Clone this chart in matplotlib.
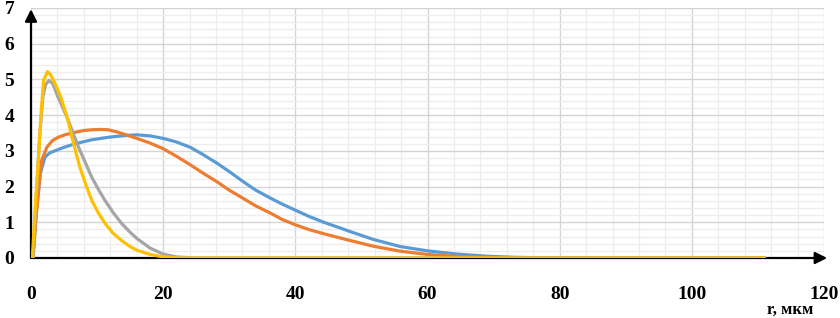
import matplotlib
matplotlib.use("Agg")
import matplotlib.pyplot as plt
from matplotlib.ticker import MultipleLocator

# Data (r in мкм)
blue_x = [0.3, 0.8, 1.4, 2.1, 2.8, 3.6, 5.0, 6.7, 9.2, 11.7, 14.2, 16.0, 18.0, 20.0, 22.0, 24.1,
          26.0, 28.1, 30.0, 32.1, 34.0, 36.2, 38.0, 40.0, 42.0, 44.3, 46.8, 48.3, 51.8, 55.9,
          60.0, 64.5, 69.0, 73.0, 78.0, 85.0, 111.0]
blue_y = [0.0, 1.3, 2.36, 2.82, 2.94, 3.0, 3.1, 3.2, 3.31, 3.38, 3.43, 3.45, 3.42, 3.35, 3.25, 3.1,
          2.9, 2.66, 2.42, 2.14, 1.9, 1.68, 1.51, 1.34, 1.17, 1.0, 0.84, 0.74, 0.52, 0.32,
          0.2, 0.11, 0.05, 0.02, 0.005, 0.0, 0.0]

orange_x = [0.3, 0.7, 1.1, 1.6, 2.4, 3.2, 4.1, 5.3, 6.7, 8.0, 9.2, 10.5, 11.7, 13.0, 14.2, 16.0,
            18.0, 20.0, 22.0, 24.1, 26.0, 28.1, 30.0, 32.1, 34.0, 36.2, 38.0, 40.0, 42.0, 44.3,
            46.8, 48.3, 51.8, 55.9, 60.0, 64.5, 70.0, 75.0, 111.0]
orange_y = [0.0, 1.0, 1.8, 2.73, 3.1, 3.28, 3.38, 3.46, 3.52, 3.57, 3.59, 3.6, 3.59, 3.53, 3.46, 3.35,
            3.22, 3.06, 2.85, 2.61, 2.38, 2.14, 1.9, 1.67, 1.46, 1.26, 1.08, 0.93, 0.8, 0.68,
            0.56, 0.49, 0.33, 0.19, 0.1, 0.04, 0.01, 0.0, 0.0]

gray_x = [0.3, 0.8, 1.3, 1.8, 2.2, 2.7, 3.3, 4.1, 4.9, 5.65, 6.4, 7.2, 8.2, 9.2, 10.2, 11.2,
          12.4, 13.7, 15.0, 16.0, 18.0, 20.0, 22.0, 25.0, 30.0, 111.0]
gray_y = [0.0, 1.7, 3.4, 4.5, 4.85, 4.97, 4.88, 4.5, 4.17, 3.85, 3.48, 3.1, 2.68, 2.26, 1.92, 1.61,
          1.28, 0.97, 0.72, 0.55, 0.28, 0.11, 0.03, 0.0, 0.0, 0.0]

yellow_x = [0.2, 0.7, 1.1, 1.5, 1.9, 2.5, 3.0, 3.9, 4.5, 5.15, 5.7, 6.2, 6.8, 7.4, 8.3, 9.2,
            10.2, 11.2, 12.4, 13.7, 15.0, 16.0, 18.0, 20.0, 22.0, 25.0, 111.0]
yellow_y = [0.0, 1.6, 2.7, 4.0, 4.97, 5.22, 5.12, 4.78, 4.5, 4.13, 3.78, 3.38, 2.95, 2.54, 2.05, 1.61,
            1.26, 0.97, 0.7, 0.49, 0.32, 0.22, 0.1, 0.03, 0.0, 0.0, 0.0]

x_ticks = [0, 20, 40, 60, 80, 100, 120]
y_ticks = [0, 1, 2, 3, 4, 5, 6, 7]
x_label = "r, мкм"

fig = plt.figure(figsize=(8.4, 3.18), dpi=100)
ax = fig.add_axes([31/840, 1 - 258/318, (824 - 31)/840, (258 - 8)/318])

ax.set_xlim(0, 120)
ax.set_ylim(0, 7)

ax.xaxis.set_major_locator(MultipleLocator(20))
ax.xaxis.set_minor_locator(MultipleLocator(4))
ax.yaxis.set_major_locator(MultipleLocator(1))
ax.yaxis.set_minor_locator(MultipleLocator(0.2))
ax.grid(which="major", color="#d4d4d4", linewidth=1.0, zorder=0)
ax.grid(which="minor", color="#ededed", linewidth=0.9, zorder=0)
ax.set_axisbelow(True)

lw = 2.3
kw = dict(lw=lw, solid_capstyle="round", solid_joinstyle="round")
ax.plot(blue_x, blue_y, color="#5B9BD5", zorder=3, **kw)
ax.plot(orange_x, orange_y, color="#ED7D31", zorder=4, **kw)
ax.plot(gray_x, gray_y, color="#A5A5A5", zorder=5, **kw)
ax.plot(yellow_x, yellow_y, color="#FFC000", zorder=6, **kw)

for s in ax.spines.values():
    s.set_visible(False)

# axis lines with arrows
ax.annotate("", xy=(1.004, 0), xycoords="axes fraction", xytext=(0, 0),
            arrowprops=dict(arrowstyle="-|>", color="black", lw=1.6, mutation_scale=18,
                            shrinkA=0, shrinkB=0), zorder=2)
ax.annotate("", xy=(0, 0.995), xycoords="axes fraction", xytext=(0, 0),
            arrowprops=dict(arrowstyle="-|>", color="black", lw=1.6, mutation_scale=18,
                            shrinkA=0, shrinkB=0), zorder=2)

ax.set_xticks(x_ticks)
ax.set_yticks(y_ticks)
ax.tick_params(which="both", length=0)
ax.tick_params(axis="x", pad=20)
ax.tick_params(axis="y", pad=12)
for lab in ax.get_xticklabels() + ax.get_yticklabels():
    lab.set_fontfamily("Liberation Serif")
    lab.set_fontweight("bold")
    lab.set_fontsize(14)

fig.text(790/840, 1 - 310/318, x_label, ha="center", va="center",
         fontfamily="Liberation Serif", fontweight="bold", fontsize=12)

fig.savefig("out.png", dpi=100)
